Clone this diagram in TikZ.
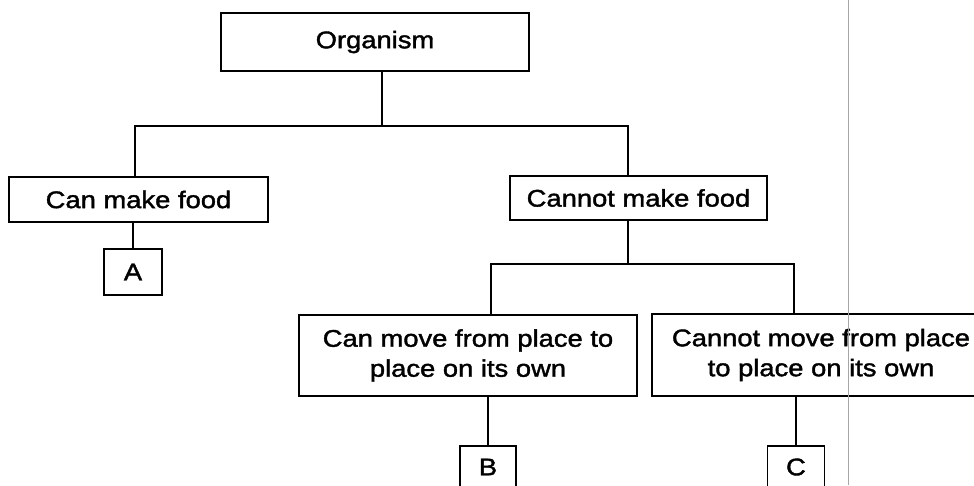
\documentclass[tikz,border=0pt]{standalone}
\usepackage{fontspec}
\setmainfont{Liberation Sans}[FakeStretch=1.14,FakeBold=1.6]
\usepackage{tikz}
\usetikzlibrary{positioning,calc}
\begin{document}
\begin{tikzpicture}[x=1pt,y=-1pt,
  box/.style={draw,line width=1.9pt,inner sep=0pt,align=center,font=\fontsize{24}{30}\selectfont},
  link/.style={line width=1.6pt}]
\useasboundingbox (0,0) rectangle (974,485);
\node[box,minimum width=308pt,minimum height=58pt] (org) at (375,42) {Organism};
\node[box,minimum width=259pt,minimum height=45pt] (food) at (138.5,199.5) {Can make food};
\node[box,minimum width=257pt,minimum height=44pt] (nofood) at (638.5,198) {Cannot make food};
\node[box,minimum width=58pt,minimum height=46pt] (A) at (133,272) {A};
\node[box,minimum width=338pt,minimum height=81pt] (move) at (468,355.5) {Can move from place to\\place on its own};
\node[box,minimum width=338pt,minimum height=82pt] (nomove) at (821,355) {Cannot move from place\\to place on its own};
\node[box,minimum width=56pt,minimum height=42pt] (B) at (488,467) {B};
\node[box,minimum width=57pt,minimum height=42pt] (C) at (796,467) {C};
\coordinate (s1) at (382,126);
\coordinate (s2) at (628,264);
\draw[link] (s1 |- org.south) -- (s1);
\draw[link] ([xshift=-3.5pt]food.north) |- (s1) -| ([xshift=-10.5pt]nofood.north);
\draw[link] (food.south -| A.north) -- (A.north);
\draw[link] ([xshift=-10.5pt]nofood.south) -- (s2);
\draw[link] ([xshift=23pt]move.north) |- (s2) -| ([xshift=-27pt]nomove.north);
\draw[link] (B.north |- move.south) -- (B.north);
\draw[link] (C.north |- nomove.south) -- (C.north);
\draw[gray!70,line width=0.8pt] (848,0) -- (848,485);
\end{tikzpicture}
\end{document}
